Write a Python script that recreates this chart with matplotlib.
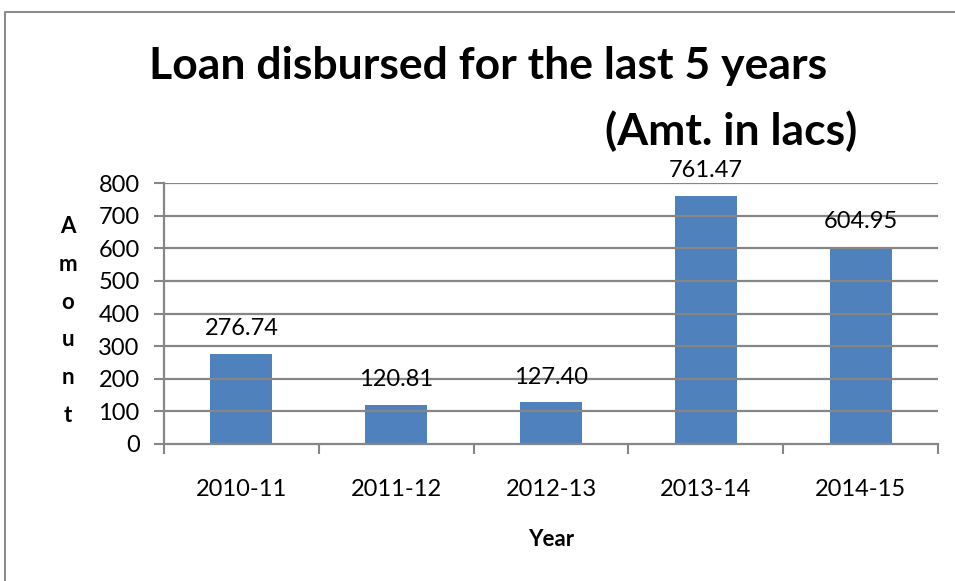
import matplotlib.pyplot as plt
import numpy as np

# Datos del gráfico
years = ['2010-11', '2011-12', '2012-13', '2013-14', '2014-15']
amounts = [276.74, 120.81, 127.40, 761.47, 604.95]
y_ticks = [0, 100, 200, 300, 400, 500, 600, 700, 800]

plt.rcParams['font.family'] = ['Lato', 'DejaVu Sans']

fig = plt.figure(figsize=(9.55, 5.81), dpi=100)
ax = fig.add_axes([164 / 955, 1 - 444 / 581, (938 - 164) / 955, (444 - 183) / 581])

grid_c = '#868686'
x = np.arange(len(years))
ax.bar(x, amounts, width=0.4, color='#4F81BD', zorder=1)
for xi, v in zip(x, amounts):
    ax.annotate(f'{v:.2f}', (xi, v), xytext=(0, 13.5), textcoords='offset points',
                ha='center', va='baseline', fontsize=17, color='black')

ax.set_ylim(0, 800)
ax.set_xlim(-0.5, len(years) - 0.5)
ax.set_yticks(y_ticks)
ax.tick_params(axis='y', labelsize=17, length=7.5, width=1.5, color=grid_c, pad=10)
for t in y_ticks[1:]:
    ax.axhline(t, color=grid_c, lw=1.6, zorder=2)

# ticks del eje x en los límites de categoría, etiquetas al centro
ax.set_xticks(np.arange(len(years) + 1) - 0.5)
ax.set_xticklabels([])
ax.set_xticks(x, minor=True)
ax.set_xticklabels(years, minor=True)
ax.tick_params(axis='x', which='major', length=7, width=1.5, color=grid_c)
ax.tick_params(axis='x', which='minor', length=0, labelsize=17, pad=25.5)

for s in ['top', 'right']:
    ax.spines[s].set_visible(False)
for s in ['left', 'bottom']:
    ax.spines[s].set_color(grid_c)
    ax.spines[s].set_linewidth(1.6)

fig.text(488 / 955, 1 - 66 / 581, 'Loan disbursed for the last 5 years',
         ha='center', va='center', fontsize=32, fontweight='bold')
fig.text(731 / 955, 1 - 131 / 581, '(Amt. in lacs)',
         ha='center', va='center', fontsize=32, fontweight='bold')
fig.text(68 / 955, 1 - 321 / 581, '\n'.join('Amount'), ha='center', va='center',
         fontsize=16, fontweight='bold', linespacing=1.98)
fig.text(551 / 955, 1 - 540 / 581, 'Year', ha='center', va='center',
         fontsize=16, fontweight='bold')

# borde del área del gráfico
fig.add_artist(plt.Line2D([5 / 955, 5 / 955, 1], [0, 1 - 12 / 581, 1 - 12 / 581],
                          color='#8c8c8c', lw=1.5, transform=fig.transFigure))

fig.savefig('out.png', dpi=100)
